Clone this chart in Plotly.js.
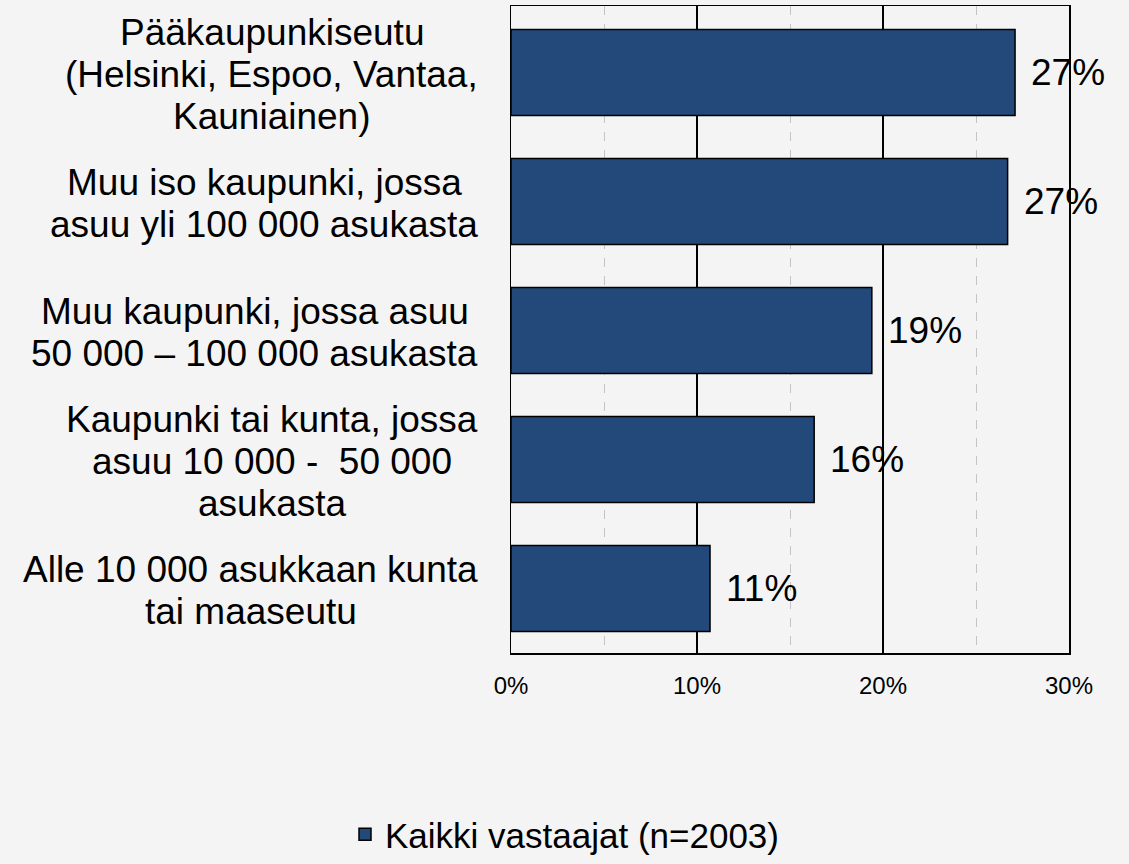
<!DOCTYPE html>
<html>
<head>
<meta charset="utf-8">
<script src="https://cdn.plot.ly/plotly-3.0.1.min.js"></script>
<style>
html,body{margin:0;padding:0;background:#f4f4f4;}
#chart{width:1129px;height:864px;}
</style>
</head>
<body>
<div id="chart"></div>
<script>
const categories = [
  "Pääkaupunkiseutu<br>(Helsinki, Espoo, Vantaa,<br>Kauniainen)",
  "Muu iso kaupunki, jossa<br>asuu yli 100 000 asukasta",
  "Muu kaupunki, jossa asuu<br>50 000 – 100 000 asukasta",
  "Kaupunki tai kunta, jossa<br>asuu 10 000 -  50 000<br>asukasta",
  "Alle 10 000 asukkaan kunta<br>tai maaseutu"
];
const values = [27.1, 26.7, 19.4, 16.3, 10.7];
const seriesName = "Kaikki vastaajat (n=2003)";
const tickVals = [0, 10, 20, 30];
const tickText = ["0%", "10%", "20%", "30%"];

const FONT = "Liberation Sans, Arial, sans-serif";
const LABEL_SIZE = 37;
const LINE_H = 42;
const RIGHT_GAP = 33;

const ctx = document.createElement("canvas").getContext("2d");
ctx.font = LABEL_SIZE + "px 'Liberation Sans', Arial, sans-serif";

const annotations = [];
categories.forEach((c, i) => {
  const lines = c.split("<br>");
  const n = lines.length;
  const maxW = Math.max(...lines.map(l => ctx.measureText(l).width));
  const centerShift = -RIGHT_GAP - maxW / 2;
  lines.forEach((ln, k) => {
    annotations.push({
      x: 0, xref: "paper", y: c, yref: "y",
      xanchor: "center", yanchor: "middle",
      xshift: centerShift, yshift: -((k - (n - 1) / 2) * LINE_H) - 2,
      text: ln.replace(/  /g, "&nbsp; "), showarrow: false,
      font: {family: FONT, size: LABEL_SIZE, color: "#000"}
    });
  });
  annotations.push({
    x: values[i], xref: "x", y: c, yref: "y",
    xanchor: "left", yanchor: "middle", xshift: 14,
    text: Math.round(values[i]) + "%", showarrow: false,
    font: {family: FONT, size: 37, color: "#000"}
  });
});

const trace = {
  type: "bar", orientation: "h",
  x: values, y: categories, name: seriesName,
  marker: {color: "#22497A", line: {color: "#000", width: 1.5}},
  hoverinfo: "skip", showlegend: true
};

const layout = {
  width: 1129, height: 864,
  paper_bgcolor: "#f4f4f4", plot_bgcolor: "#f4f4f4",
  margin: {l: 511, r: 60, t: 6, b: 211},
  bargap: 0.335,
  font: {family: FONT, color: "#000"},
  xaxis: {
    range: [0, 30], tickvals: tickVals, ticktext: tickText,
    showgrid: true, gridcolor: "#000", gridwidth: 1.2,
    minor: {dtick: 5, showgrid: true, gridcolor: "#c4c4c4", griddash: "dash", gridwidth: 1},
    showline: true, mirror: true, linecolor: "#000", linewidth: 1.5,
    zeroline: false, ticks: "", ticklabelstandoff: 11,
    tickfont: {family: FONT, size: 24, color: "#000"}, fixedrange: true
  },
  yaxis: {
    autorange: "reversed", showticklabels: false, ticks: "",
    showgrid: false, zeroline: false,
    showline: true, mirror: true, linecolor: "#000", linewidth: 1.5, fixedrange: true
  },
  showlegend: true,
  legend: {
    orientation: "h", xref: "container", yref: "container",
    x: 0.5, xanchor: "center", y: 0.034, yanchor: "middle",
    font: {family: FONT, size: 35, color: "#000"},
    bgcolor: "rgba(0,0,0,0)", itemwidth: 30
  },
  annotations: annotations
};

Plotly.newPlot("chart", [trace], layout, {displayModeBar: false, staticPlot: true});
</script>
</body>
</html>
